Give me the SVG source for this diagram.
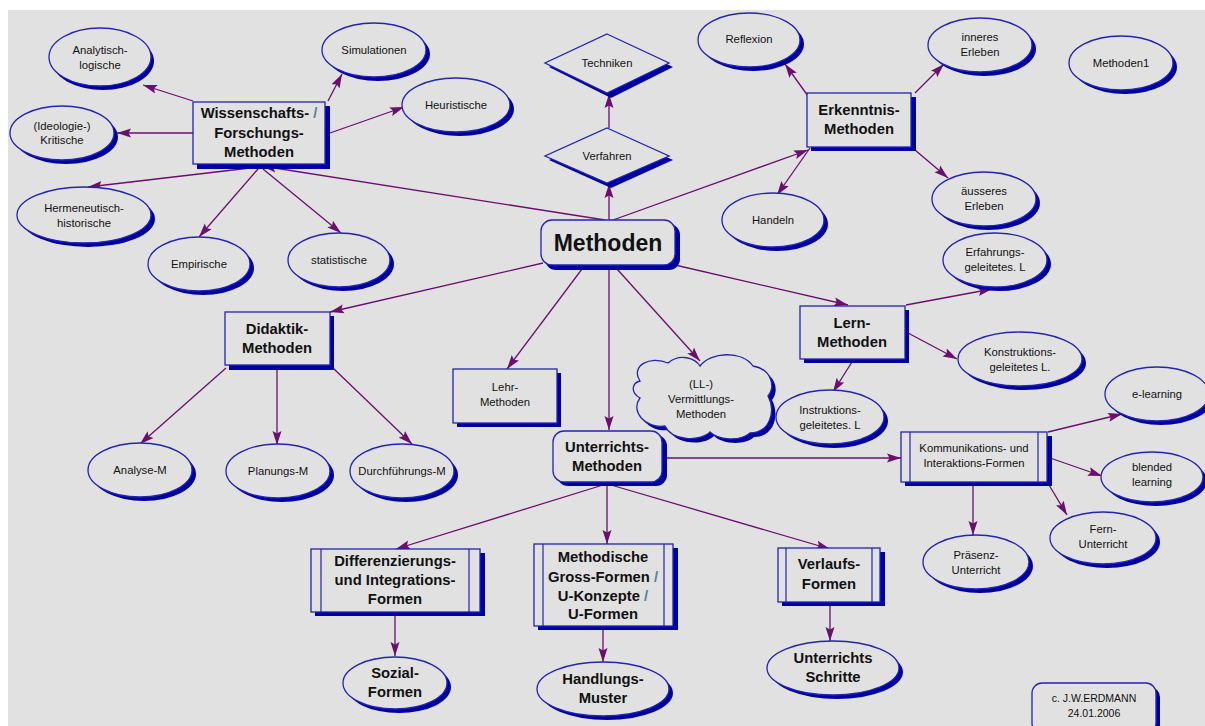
<svg xmlns="http://www.w3.org/2000/svg" width="1205" height="726" viewBox="0 0 1205 726">
  <style>
    .bg { fill: #e1e1e1; }
    .sh { fill: #0000a0; }
    .nd { fill: #e1e1e1; stroke: #2323b4; stroke-width: 1.3; }
    .ln { fill: none; stroke: #2323b4; stroke-width: 1.2; }
    .cn { fill: none; stroke: #6a0f6e; stroke-width: 1.3; marker-end: url(#ah); }
    text { font-family: "Liberation Sans", Arial, sans-serif; fill: #111; text-anchor: middle; }
    .t { font-size: 11.3px; }
    .b { font-size: 14.8px; font-weight: bold; }
    .big { font-size: 23px; font-weight: bold; }
    .sl { fill: #5f7f9a; }
  </style>
  <defs>
    <marker id="ah" viewBox="0 0 14 10" refX="14" refY="5" markerWidth="14" markerHeight="10" markerUnits="userSpaceOnUse" orient="auto">
      <path d="M0,0.5 L14,5 L0,9.5 L2.5,5 Z" fill="#6a0f6e"/>
    </marker>
  </defs>

  <rect x="0" y="0" width="1205" height="726" fill="#ffffff"/>
  <rect class="bg" x="8" y="10" width="1197" height="716"/>

  <!-- connectors -->
  <g id="connectors">
    <line class="cn" x1="605" y1="220" x2="262" y2="166"/>
    <line class="cn" x1="193" y1="101" x2="143" y2="85"/>
    <line class="cn" x1="193" y1="133" x2="117" y2="133"/>
    <line class="cn" x1="250" y1="168" x2="88" y2="187"/>
    <line class="cn" x1="258" y1="169" x2="199" y2="237"/>
    <line class="cn" x1="263" y1="169" x2="341" y2="233"/>
    <line class="cn" x1="328" y1="101" x2="342" y2="74"/>
    <line class="cn" x1="330" y1="133" x2="404" y2="107"/>
    <line class="cn" x1="609" y1="220" x2="609" y2="184"/>
    <line class="cn" x1="609" y1="128" x2="609" y2="94"/>
    <line class="cn" x1="613" y1="220" x2="808" y2="150"/>
    <line class="cn" x1="808" y1="96" x2="785" y2="64"/>
    <line class="cn" x1="810" y1="148" x2="777" y2="195"/>
    <line class="cn" x1="915" y1="93" x2="944" y2="64"/>
    <line class="cn" x1="915" y1="150" x2="948" y2="178"/>
    <line class="cn" x1="543" y1="263" x2="330" y2="312"/>
    <line class="cn" x1="226" y1="368" x2="140" y2="444"/>
    <line class="cn" x1="277" y1="368" x2="277" y2="445"/>
    <line class="cn" x1="333" y1="368" x2="412" y2="444"/>
    <line class="cn" x1="582" y1="269" x2="507" y2="369"/>
    <line class="cn" x1="609" y1="269" x2="609" y2="430"/>
    <line class="cn" x1="617" y1="269" x2="700" y2="361"/>
    <line class="cn" x1="675" y1="265" x2="848" y2="305"/>
    <line class="cn" x1="906" y1="305" x2="992" y2="289"/>
    <line class="cn" x1="908" y1="333" x2="957" y2="359"/>
    <line class="cn" x1="852" y1="362" x2="833" y2="392"/>
    <line class="cn" x1="662" y1="458" x2="901" y2="458"/>
    <line class="cn" x1="1048" y1="432" x2="1122" y2="414"/>
    <line class="cn" x1="1050" y1="458" x2="1102" y2="476"/>
    <line class="cn" x1="1049" y1="485" x2="1067" y2="515"/>
    <line class="cn" x1="973" y1="485" x2="973" y2="535"/>
    <line class="cn" x1="603" y1="485" x2="396" y2="549"/>
    <line class="cn" x1="607" y1="485" x2="607" y2="544"/>
    <line class="cn" x1="611" y1="485" x2="830" y2="549"/>
    <line class="cn" x1="395" y1="612" x2="395" y2="656"/>
    <line class="cn" x1="603" y1="626" x2="603" y2="662"/>
    <line class="cn" x1="830" y1="602" x2="830" y2="641"/>
  </g>

  <!-- central node -->
  <g id="methoden">
    <rect class="sh" x="545" y="224" width="135" height="46" rx="11"/>
    <rect class="nd" x="541" y="220" width="134" height="45" rx="11"/>
    <text class="big" x="608" y="251">Methoden</text>
  </g>

  <!-- research methods -->
  <g id="wissenschafts">
    <rect class="sh" x="197" y="106" width="133" height="63"/>
    <rect class="nd" x="193" y="102" width="132" height="62"/>
    <text class="b" x="259" y="118">Wissenschafts- <tspan class="sl">/</tspan></text>
    <text class="b" x="259" y="138">Forschungs-</text>
    <text class="b" x="259" y="157">Methoden</text>
  </g>
  <g id="analytisch">
    <ellipse class="sh" cx="103" cy="61" rx="51" ry="29"/>
    <ellipse class="nd" cx="100" cy="57" rx="51" ry="29"/>
    <text class="t" x="100" y="54">Analytisch-</text>
    <text class="t" x="100" y="69">logische</text>
  </g>
  <g id="kritische">
    <ellipse class="sh" cx="66" cy="137" rx="52" ry="27"/>
    <ellipse class="nd" cx="62" cy="133" rx="52" ry="27"/>
    <text class="t" x="62" y="130">(Ideologie-)</text>
    <text class="t" x="62" y="144">Kritische</text>
  </g>
  <g id="hermeneutisch">
    <ellipse class="sh" cx="88" cy="219" rx="67" ry="28"/>
    <ellipse class="nd" cx="84" cy="215" rx="67" ry="28"/>
    <text class="t" x="84" y="212">Hermeneutisch-</text>
    <text class="t" x="84" y="227">historische</text>
  </g>
  <g id="empirische">
    <ellipse class="sh" cx="203" cy="268" rx="51" ry="27"/>
    <ellipse class="nd" cx="199" cy="264" rx="51" ry="27"/>
    <text class="t" x="199" y="268">Empirische</text>
  </g>
  <g id="statistische">
    <ellipse class="sh" cx="343" cy="264" rx="51" ry="27"/>
    <ellipse class="nd" cx="339" cy="260" rx="51" ry="27"/>
    <text class="t" x="339" y="264">statistische</text>
  </g>
  <g id="simulationen">
    <ellipse class="sh" cx="378" cy="54" rx="52" ry="27"/>
    <ellipse class="nd" cx="374" cy="50" rx="52" ry="27"/>
    <text class="t" x="374" y="54">Simulationen</text>
  </g>
  <g id="heuristische">
    <ellipse class="sh" cx="460" cy="109" rx="54" ry="27"/>
    <ellipse class="nd" cx="456" cy="105" rx="54" ry="27"/>
    <text class="t" x="456" y="109">Heuristische</text>
  </g>

  <!-- procedures -->
  <g id="techniken">
    <polygon class="sh" points="611,38 673,67 611,98 549,67"/>
    <polygon class="nd" points="607,34 669,63 607,93 545,63"/>
    <text class="t" x="607" y="67">Techniken</text>
  </g>
  <g id="verfahren">
    <polygon class="sh" points="611,132 673,160 611,188 549,160"/>
    <polygon class="nd" points="607,128 669,156 607,183 545,156"/>
    <text class="t" x="607" y="160">Verfahren</text>
  </g>

  <!-- cognition methods -->
  <g id="erkenntnis">
    <rect class="sh" x="811" y="97" width="105" height="54"/>
    <rect class="nd" x="807" y="93" width="104" height="54"/>
    <text class="b" x="859" y="115">Erkenntnis-</text>
    <text class="b" x="859" y="134">Methoden</text>
  </g>
  <g id="reflexion">
    <ellipse class="sh" cx="753" cy="44" rx="51" ry="27"/>
    <ellipse class="nd" cx="749" cy="40" rx="51" ry="27"/>
    <text class="t" x="749" y="43">Reflexion</text>
  </g>
  <g id="handeln">
    <ellipse class="sh" cx="777" cy="224" rx="51" ry="27"/>
    <ellipse class="nd" cx="773" cy="220" rx="51" ry="27"/>
    <text class="t" x="773" y="224">Handeln</text>
  </g>
  <g id="inneres">
    <ellipse class="sh" cx="984" cy="49" rx="52" ry="27"/>
    <ellipse class="nd" cx="980" cy="45" rx="52" ry="27"/>
    <text class="t" x="980" y="41">inneres</text>
    <text class="t" x="980" y="56">Erleben</text>
  </g>
  <g id="aeusseres">
    <ellipse class="sh" cx="988" cy="203" rx="52" ry="27"/>
    <ellipse class="nd" cx="984" cy="199" rx="52" ry="27"/>
    <text class="t" x="984" y="195">äusseres</text>
    <text class="t" x="984" y="210">Erleben</text>
  </g>
  <g id="methoden1">
    <ellipse class="sh" cx="1125" cy="67" rx="52" ry="27"/>
    <ellipse class="nd" cx="1121" cy="63" rx="52" ry="27"/>
    <text class="t" x="1121" y="67">Methoden1</text>
  </g>

  <!-- didactic methods -->
  <g id="didaktik">
    <rect class="sh" x="229" y="316" width="105" height="54"/>
    <rect class="nd" x="225" y="312" width="105" height="53"/>
    <text class="b" x="277" y="334">Didaktik-</text>
    <text class="b" x="277" y="353">Methoden</text>
  </g>
  <g id="analyse">
    <ellipse class="sh" cx="144" cy="474" rx="52" ry="27"/>
    <ellipse class="nd" cx="140" cy="470" rx="52" ry="27"/>
    <text class="t" x="140" y="474">Analyse-M</text>
  </g>
  <g id="planungs">
    <ellipse class="sh" cx="282" cy="475" rx="52" ry="27"/>
    <ellipse class="nd" cx="278" cy="471" rx="52" ry="27"/>
    <text class="t" x="278" y="475">Planungs-M</text>
  </g>
  <g id="durchfuehrungs">
    <ellipse class="sh" cx="406" cy="475" rx="52" ry="27"/>
    <ellipse class="nd" cx="402" cy="471" rx="52" ry="27"/>
    <text class="t" x="402" y="475">Durchführungs-M</text>
  </g>

  <!-- teaching / mediation -->
  <g id="lehr">
    <rect class="sh" x="457" y="373" width="104" height="54"/>
    <rect class="nd" x="453" y="369" width="104" height="54"/>
    <text class="t" x="505" y="391">Lehr-</text>
    <text class="t" x="505" y="406">Methoden</text>
  </g>
  <g id="vermittlung">
    <path class="sh" transform="translate(4,4)" d="M640,381 C630,366 650,355 668,363 C680,353 695,358 700,366 C710,352 742,350 753,366 C771,369 776,386 768,396 C776,411 770,433 750,433 C740,442 718,440 710,432 C700,442 672,441 665,426 C645,429 630,411 640,398 C630,392 632,383 640,381 Z"/>
    <path class="nd" d="M640,381 C630,366 650,355 668,363 C680,353 695,358 700,366 C710,352 742,350 753,366 C771,369 776,386 768,396 C776,411 770,433 750,433 C740,442 718,440 710,432 C700,442 672,441 665,426 C645,429 630,411 640,398 C630,392 632,383 640,381 Z"/>
    <text class="t" x="701" y="388">(LL-)</text>
    <text class="t" x="701" y="403">Vermittlungs-</text>
    <text class="t" x="701" y="418">Methoden</text>
  </g>

  <!-- learning methods -->
  <g id="lern">
    <rect class="sh" x="804" y="310" width="105" height="53"/>
    <rect class="nd" x="800" y="306" width="105" height="53"/>
    <text class="b" x="852" y="328">Lern-</text>
    <text class="b" x="852" y="347">Methoden</text>
  </g>
  <g id="erfahrungs">
    <ellipse class="sh" cx="999" cy="264" rx="52" ry="27"/>
    <ellipse class="nd" cx="995" cy="260" rx="52" ry="27"/>
    <text class="t" x="995" y="256">Erfahrungs-</text>
    <text class="t" x="995" y="271">geleitetes. L</text>
  </g>
  <g id="konstruktions">
    <ellipse class="sh" cx="1024" cy="363" rx="62" ry="27"/>
    <ellipse class="nd" cx="1020" cy="359" rx="62" ry="27"/>
    <text class="t" x="1020" y="356">Konstruktions-</text>
    <text class="t" x="1020" y="371">geleitetes L.</text>
  </g>
  <g id="instruktions">
    <ellipse class="sh" cx="834" cy="421" rx="54" ry="27"/>
    <ellipse class="nd" cx="830" cy="417" rx="54" ry="27"/>
    <text class="t" x="830" y="414">Instruktions-</text>
    <text class="t" x="830" y="429">geleitetes. L</text>
  </g>

  <!-- lesson methods -->
  <g id="unterrichts">
    <rect class="sh" x="557" y="435" width="110" height="51" rx="11"/>
    <rect class="nd" x="553" y="431" width="109" height="51" rx="11"/>
    <text class="b" x="607" y="452">Unterrichts-</text>
    <text class="b" x="607" y="471">Methoden</text>
  </g>
  <g id="kommunikation">
    <rect class="sh" x="905" y="436" width="147" height="50"/>
    <rect class="nd" x="901" y="432" width="146" height="50"/>
    <line class="ln" x1="910" y1="432" x2="910" y2="482"/>
    <line class="ln" x1="1038" y1="432" x2="1038" y2="482"/>
    <text class="t" x="974" y="452">Kommunikations- und</text>
    <text class="t" x="974" y="467">Interaktions-Formen</text>
  </g>
  <g id="elearning">
    <ellipse class="sh" cx="1161" cy="398" rx="52" ry="27"/>
    <ellipse class="nd" cx="1157" cy="394" rx="52" ry="27"/>
    <text class="t" x="1157" y="398">e-learning</text>
  </g>
  <g id="blended">
    <ellipse class="sh" cx="1156" cy="481" rx="51" ry="25"/>
    <ellipse class="nd" cx="1152" cy="477" rx="51" ry="25"/>
    <text class="t" x="1152" y="471">blended</text>
    <text class="t" x="1152" y="486">learning</text>
  </g>
  <g id="fern">
    <ellipse class="sh" cx="1107" cy="542" rx="53" ry="26"/>
    <ellipse class="nd" cx="1103" cy="538" rx="53" ry="26"/>
    <text class="t" x="1103" y="533">Fern-</text>
    <text class="t" x="1103" y="548">Unterricht</text>
  </g>
  <g id="praesenz">
    <ellipse class="sh" cx="980" cy="566" rx="53" ry="27"/>
    <ellipse class="nd" cx="976" cy="562" rx="53" ry="27"/>
    <text class="t" x="976" y="559">Präsenz-</text>
    <text class="t" x="976" y="574">Unterricht</text>
  </g>

  <!-- forms -->
  <g id="differenzierung">
    <rect class="sh" x="315" y="553" width="170" height="63"/>
    <rect class="nd" x="311" y="549" width="169" height="63"/>
    <line class="ln" x1="321" y1="549" x2="321" y2="612"/>
    <line class="ln" x1="469" y1="549" x2="469" y2="612"/>
    <text class="b" x="395" y="566">Differenzierungs-</text>
    <text class="b" x="395" y="585">und Integrations-</text>
    <text class="b" x="395" y="604">Formen</text>
  </g>
  <g id="methodische">
    <rect class="sh" x="538" y="548" width="140" height="82"/>
    <rect class="nd" x="534" y="544" width="139" height="82"/>
    <line class="ln" x1="543" y1="544" x2="543" y2="626"/>
    <line class="ln" x1="664" y1="544" x2="664" y2="626"/>
    <text class="b" x="603" y="562">Methodische</text>
    <text class="b" x="603" y="582">Gross-Formen <tspan class="sl">/</tspan></text>
    <text class="b" x="603" y="601">U-Konzepte <tspan class="sl">/</tspan></text>
    <text class="b" x="603" y="619">U-Formen</text>
  </g>
  <g id="verlaufs">
    <rect class="sh" x="782" y="552" width="103" height="54"/>
    <rect class="nd" x="778" y="548" width="102" height="54"/>
    <line class="ln" x1="786" y1="548" x2="786" y2="602"/>
    <line class="ln" x1="872" y1="548" x2="872" y2="602"/>
    <text class="b" x="829" y="569">Verlaufs-</text>
    <text class="b" x="829" y="589">Formen</text>
  </g>
  <g id="sozial">
    <ellipse class="sh" cx="399" cy="687" rx="52" ry="26"/>
    <ellipse class="nd" cx="395" cy="683" rx="52" ry="26"/>
    <text class="b" x="395" y="678">Sozial-</text>
    <text class="b" x="395" y="697">Formen</text>
  </g>
  <g id="handlungs">
    <ellipse class="sh" cx="607" cy="693" rx="66" ry="27"/>
    <ellipse class="nd" cx="603" cy="689" rx="66" ry="27"/>
    <text class="b" x="603" y="684">Handlungs-</text>
    <text class="b" x="603" y="703">Muster</text>
  </g>
  <g id="schritte">
    <ellipse class="sh" cx="837" cy="672" rx="66" ry="27"/>
    <ellipse class="nd" cx="833" cy="668" rx="66" ry="27"/>
    <text class="b" x="833" y="663">Unterrichts</text>
    <text class="b" x="833" y="682">Schritte</text>
  </g>

  <!-- author note -->
  <g id="copyright">
    <rect class="sh" x="1036" y="687" width="124" height="50" rx="10"/>
    <rect class="nd" x="1032" y="683" width="124" height="50" rx="10"/>
    <text class="t" x="1094" y="702" style="font-size:10.5px">c. J.W.ERDMANN</text>
    <text class="t" x="1094" y="717" style="font-size:10.5px">24.01.2006</text>
  </g>
</svg>
